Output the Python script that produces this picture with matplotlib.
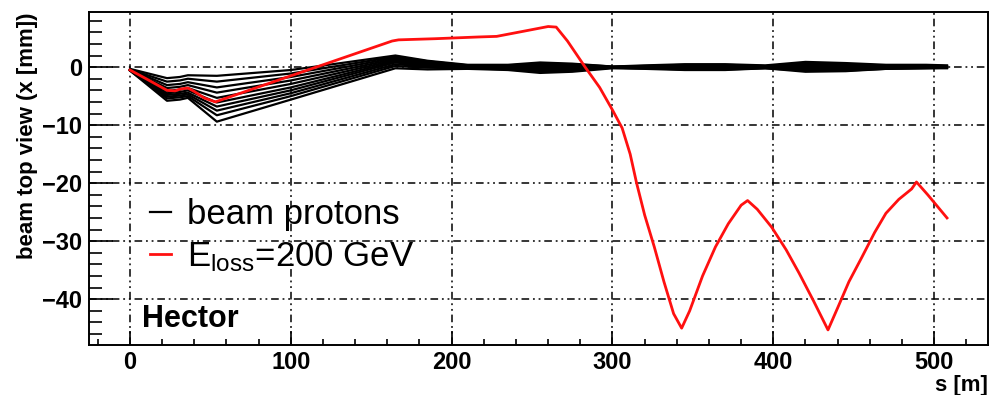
import numpy as np
import matplotlib.pyplot as plt
from matplotlib.ticker import MultipleLocator

# Fonts (Arial-like, as in the ROOT plot)
plt.rcParams['font.family'] = ['Liberation Sans', 'DejaVu Sans']
plt.rcParams['mathtext.fontset'] = 'custom'
plt.rcParams['mathtext.rm'] = 'Liberation Sans'

# Red track: proton with E_loss = 200 GeV
s_loss = [0, 10, 23, 28, 31, 36, 40, 46, 53, 100, 163, 167, 190, 217, 228, 245, 260, 265,
          272, 283, 292, 300, 306, 311, 315, 320, 326, 332, 338, 343, 348, 356, 364, 372,
          380, 384, 390, 399, 408, 416, 425, 434, 440, 447, 455, 463, 470, 478, 486, 489,
          496, 502, 508]
x_loss = [-0.5, -2.0, -4.0, -4.1, -3.8, -3.6, -4.2, -5.3, -6.0, -1.5, 4.5, 4.7, 4.9, 5.2, 5.3,
          6.2, 7.0, 6.9, 4.5, 0.0, -3.5, -7.4, -10.5, -15.0, -20.0, -25.5, -31.0, -37.0,
          -42.5, -45.0, -42.0, -36.0, -31.0, -27.0, -23.8, -23.0, -24.5, -27.6, -31.5, -35.5,
          -40.3, -45.3, -41.5, -37.0, -32.8, -28.5, -25.2, -22.8, -21.0, -19.8, -22.0, -24.0,
          -26.0]

# Black tracks: beam protons (bundle), all sampled at the same s points
s_beam = [0, 23, 31, 36, 54, 100, 165, 185, 210, 235, 255, 275, 300, 320, 345, 370, 395,
          420, 445, 470, 495, 508]
beam_tracks = [
    [-0.3, -1.9, -1.7, -1.4, -1.5, -0.5, 2.0, 1.1, 0.4, 0.4, 0.8, 0.6, 0.1, 0.3, 0.5, 0.5, 0.3, 0.9, 0.7, 0.4, 0.4, 0.3],
    [-0.4, -2.5, -2.3, -2.0, -2.5, -1.1, 1.8, 1.0, 0.3, 0.3, 0.6, 0.5, 0.1, 0.2, 0.4, 0.4, 0.2, 0.7, 0.5, 0.3, 0.3, 0.2],
    [-0.4, -3.1, -2.9, -2.6, -3.5, -1.7, 1.6, 0.8, 0.2, 0.2, 0.4, 0.3, 0.0, 0.1, 0.3, 0.3, 0.1, 0.5, 0.4, 0.2, 0.2, 0.1],
    [-0.5, -3.6, -3.4, -3.1, -4.4, -2.3, 1.4, 0.7, 0.1, 0.1, 0.2, 0.1, 0.0, 0.1, 0.1, 0.1, 0.1, 0.3, 0.2, 0.1, 0.1, 0.1],
    [-0.5, -4.1, -3.9, -3.6, -5.3, -2.9, 1.2, 0.5, 0.0, 0.0, 0.0, 0.0, 0.0, 0.0, 0.0, 0.0, 0.0, 0.1, 0.0, 0.0, 0.0, 0.0],
    [-0.5, -4.5, -4.3, -4.0, -6.1, -3.5, 1.0, 0.4, 0.0, -0.1, -0.2, -0.2, 0.0, -0.1, -0.1, -0.1, 0.0, -0.1, -0.2, -0.1, 0.0, 0.0],
    [-0.5, -4.8, -4.6, -4.4, -6.8, -4.0, 0.8, 0.2, -0.1, -0.2, -0.4, -0.3, 0.0, -0.1, -0.2, -0.2, -0.1, -0.3, -0.3, -0.1, -0.1, 0.0],
    [-0.5, -5.1, -4.9, -4.7, -7.5, -4.5, 0.5, 0.1, -0.2, -0.3, -0.6, -0.5, -0.1, -0.2, -0.3, -0.3, -0.1, -0.5, -0.5, -0.2, -0.1, -0.1],
    [-0.6, -5.4, -5.2, -5.0, -8.3, -5.0, 0.2, -0.1, -0.2, -0.4, -0.8, -0.6, -0.1, -0.2, -0.4, -0.4, -0.2, -0.6, -0.6, -0.3, -0.2, -0.1],
    [-0.6, -5.8, -5.6, -5.3, -9.4, -5.6, -0.2, -0.4, -0.3, -0.5, -1.0, -0.8, -0.2, -0.3, -0.5, -0.5, -0.2, -0.8, -0.7, -0.3, -0.2, -0.2],
]

fig = plt.figure(figsize=(9.92, 3.95), dpi=100)
ax = fig.add_axes([0.0897, 0.1266, 0.9063, 0.843])

# ROOT-like dash-dot-dot grid
grid_dash = (0, (5, 2.5, 1.2, 2.5, 1.2, 2.5))
ax.grid(True, which='major', color='black', linewidth=1.1, linestyle=grid_dash)
ax.set_axisbelow(True)

for track in beam_tracks:
    beam_line, = ax.plot(s_beam, track, color='black', linewidth=1.6)
loss_line, = ax.plot(s_loss, x_loss, color='#ff1010', linewidth=2.0)

ax.set_xlim(-25.5, 533.5)
ax.set_ylim(-47.9, 9.5)

ax.xaxis.set_major_locator(MultipleLocator(100))
ax.xaxis.set_minor_locator(MultipleLocator(20))
ax.yaxis.set_major_locator(MultipleLocator(10))
ax.yaxis.set_minor_locator(MultipleLocator(2))

ax.tick_params(axis='both', which='both', direction='in', top=False, right=False, width=1.2)
ax.tick_params(axis='x', which='major', length=10, pad=4, labelsize=17)
ax.tick_params(axis='x', which='minor', length=4.5)
ax.tick_params(axis='y', which='major', length=17, pad=5, labelsize=17)
ax.tick_params(axis='y', which='minor', length=9)
for lab in ax.get_xticklabels() + ax.get_yticklabels():
    lab.set_fontweight('bold')
for sp in ax.spines.values():
    sp.set_linewidth(1.4)

ax.set_ylabel('beam top view (x [mm])', fontsize=16, fontweight='bold', loc='top')
ax.yaxis.set_label_coords(-0.057, 1.0)
ax.set_xlabel('s [m]', fontsize=16, fontweight='bold', loc='right')
ax.xaxis.set_label_coords(1.0, -0.09)

ax.legend([beam_line, loss_line], ['beam protons', r'$\mathrm{E_{loss}}$=200 GeV'],
          loc='upper left', bbox_to_anchor=(0.068, 0.44), frameon=False, fontsize=25,
          handlelength=0.6, handletextpad=0.45, labelspacing=0.25, borderpad=0,
          borderaxespad=0)

ax.text(0.059, 0.054, 'Hector', transform=ax.transAxes, fontsize=22, fontweight='bold',
        va='baseline', ha='left')

fig.savefig('out.png', dpi=100)
